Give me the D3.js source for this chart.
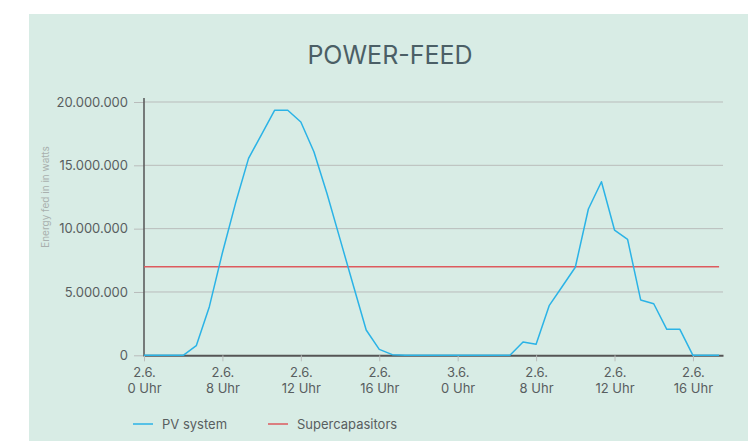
<!DOCTYPE html>
<html>
<head>
<meta charset="utf-8">
<script src="https://cdn.jsdelivr.net/npm/d3@7"></script>
<style>
  html, body { margin: 0; padding: 0; background: #fff; }
  svg { display: block; font-family: Inter, "Open Sans", sans-serif; }
</style>
</head>
<body>
<svg id="chart"></svg>
<script>
// PV feed per slot (1 slot = 1/6 of a labelled tick)
const pvValues = [
  0, 0, 0, 0, 760000, 3840000, 8100000, 12000000, 15550000, 17450000,
  19350000, 19350000, 18420000, 16070000, 12770000, 9170000, 5570000, 2000000, 470000, 50000,
  0, 0, 0, 0, 0, 0, 0, 0, 0, 1050000,
  870000, 3920000, 5430000, 6950000, 11550000, 13700000, 9890000, 9160000, 4370000, 4070000,
  2050000, 2050000, 0, 0, 0
];
const supercapValues = [
  7000000, 7000000, 7000000, 7000000, 7000000, 7000000, 7000000, 7000000, 7000000, 7000000,
  7000000, 7000000, 7000000, 7000000, 7000000, 7000000, 7000000, 7000000, 7000000, 7000000,
  7000000, 7000000, 7000000, 7000000, 7000000, 7000000, 7000000, 7000000, 7000000, 7000000,
  7000000, 7000000, 7000000, 7000000, 7000000, 7000000, 7000000, 7000000, 7000000, 7000000,
  7000000, 7000000, 7000000, 7000000, 7000000
];
const tickSlots = [0, 6, 12, 18, 24, 30, 36, 42];
const tickDays = ['2.6.', '2.6.', '2.6.', '2.6.', '3.6.', '2.6.', '2.6.', '2.6.'];
const tickHours = ['0 Uhr', '8 Uhr', '12 Uhr', '16 Uhr', '0 Uhr', '8 Uhr', '12 Uhr', '16 Uhr'];
const yTicks = [0, 5000000, 10000000, 15000000, 20000000];
const seriesNames = ['PV system', 'Supercapasitors'];
const seriesColors = ['#2bb3e6', '#dd5a5e'];

const width = 750;
const height = 441;

const svg = d3.select('#chart')
  .attr('width', width)
  .attr('height', height);

// panel
svg.append('rect')
  .attr('x', 29)
  .attr('y', 14)
  .attr('width', 719)
  .attr('height', height - 14)
  .attr('fill', '#d8ece5');

svg.append('text')
  .attr('x', 390)
  .attr('y', 64)
  .attr('text-anchor', 'middle')
  .style('font-size', '25px')
  .style('fill', '#4b5f66')
  .text('POWER-FEED');

// scales
const x = d3.scaleLinear()
  .domain([0, 44.3])
  .range([144, 723]);

const y = d3.scaleLinear()
  .domain([0, 20000000])
  .range([355.3, 102]);

const fmt = d => d3.format(',')(d).replace(/,/g, '.');

// horizontal grid
svg.append('g')
  .selectAll('line')
  .data(yTicks.filter(d => d > 0))
  .enter()
  .append('line')
  .attr('x1', 144)
  .attr('x2', 723)
  .attr('y1', d => y(d))
  .attr('y2', d => y(d))
  .attr('stroke', '#b9bcbb')
  .attr('stroke-width', 1);

// y axis
const yAxis = svg.append('g')
  .attr('transform', 'translate(144,0)')
  .call(d3.axisLeft(y)
    .tickValues(yTicks)
    .tickSize(10)
    .tickSizeOuter(0)
    .tickPadding(6)
    .tickFormat(fmt));

yAxis.select('.domain').remove();
yAxis.selectAll('.tick line').attr('stroke', '#b9bcbb');
yAxis.selectAll('text')
  .style('font-family', 'Inter, sans-serif')
  .style('font-size', '13px')
  .style('fill', '#585e5f');

svg.append('line')
  .attr('x1', 144)
  .attr('x2', 144)
  .attr('y1', 98)
  .attr('y2', 356.5)
  .attr('stroke', '#555555')
  .attr('stroke-width', 1.5);

// y title
svg.append('text')
  .attr('transform', 'translate(49,197) rotate(-90)')
  .attr('text-anchor', 'middle')
  .style('font-size', '10px')
  .style('fill', '#a9b0ae')
  .text('Energy fed in in watts');

// x axis
const xAxis = svg.append('g')
  .attr('transform', `translate(0,${y(0)})`)
  .call(d3.axisBottom(x)
    .tickValues(tickSlots)
    .tickSize(6)
    .tickSizeOuter(0)
    .tickFormat(''));

xAxis.select('.domain')
  .attr('stroke', '#555555')
  .attr('stroke-width', 2);
xAxis.selectAll('.tick line').attr('stroke', '#b9bcbb');

const tickText = xAxis.selectAll('.tick text')
  .attr('y', 0)
  .attr('dy', null)
  .style('font-family', 'Inter, sans-serif')
  .style('font-size', '13px')
  .style('fill', '#585e5f');

tickText.append('tspan')
  .attr('x', 0)
  .attr('y', 22)
  .text((d, i) => tickDays[i]);
tickText.append('tspan')
  .attr('x', 0)
  .attr('y', 38)
  .text((d, i) => tickHours[i]);

// lines
const line = d3.line()
  .x((d, i) => x(i))
  .y(d => y(d));

svg.append('path')
  .datum(supercapValues)
  .attr('fill', 'none')
  .attr('stroke', seriesColors[1])
  .attr('stroke-width', 1.5)
  .attr('d', line);

svg.append('path')
  .datum(pvValues)
  .attr('fill', 'none')
  .attr('stroke', seriesColors[0])
  .attr('stroke-width', 1.5)
  .attr('stroke-linejoin', 'round')
  .attr('d', line);

// legend
const legendX = [133, 268];
const legend = svg.append('g')
  .selectAll('g')
  .data(seriesNames)
  .enter()
  .append('g')
  .attr('transform', (d, i) => `translate(${legendX[i]},424)`);

legend.append('line')
  .attr('x1', 0)
  .attr('x2', 20)
  .attr('stroke', (d, i) => seriesColors[i])
  .attr('stroke-width', 1.5);

legend.append('text')
  .attr('x', 29)
  .attr('y', 4.5)
  .style('font-size', '13px')
  .style('fill', '#585e5f')
  .text(d => d);
</script>
</body>
</html>
